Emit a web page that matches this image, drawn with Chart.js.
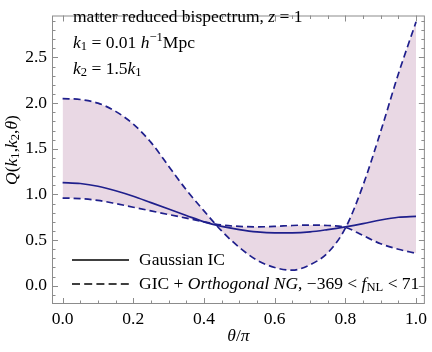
<!DOCTYPE html>
<html>
<head>
<meta charset="utf-8">
<script src="https://cdn.jsdelivr.net/npm/chart.js@4.4.1/dist/chart.umd.min.js"></script>
<style>
html,body{margin:0;padding:0;background:#fff;}
#c{display:block;}
</style>
</head>
<body>
<canvas id="c" width="432" height="352"></canvas>
<script>
// ---- data ----
const thetaOverPi = [0,0.05,0.1,0.15,0.2,0.25,0.3,0.35,0.4,0.45,0.5,0.55,0.6,0.65,0.7,0.75,0.8,0.85,0.9,0.95,1.0];
const gaussianIC  = [1.13,1.12,1.09,1.04,0.98,0.91,0.84,0.77,0.70,0.65,0.615,0.59,0.58,0.58,0.59,0.615,0.645,0.68,0.72,0.75,0.76];
const orthUpper   = [2.05,2.04,2.00,1.91,1.77,1.57,1.31,1.05,0.82,0.60,0.42,0.28,0.20,0.17,0.23,0.36,0.63,1.10,1.69,2.32,2.89];
const orthLower   = [0.96,0.955,0.935,0.90,0.86,0.82,0.78,0.74,0.70,0.665,0.65,0.645,0.65,0.66,0.665,0.66,0.64,0.55,0.46,0.40,0.355];
const xTicks = [0,0.2,0.4,0.6,0.8,1.0];
const yTicks = [0,0.5,1.0,1.5,2.0,2.5];
const xMinorTicks = [0,0.05,0.1,0.15,0.2,0.25,0.3,0.35,0.4,0.45,0.5,0.55,0.6,0.65,0.7,0.75,0.8,0.85,0.9,0.95,1.0];
const yMinorTicks = [-0.1,0,0.1,0.2,0.3,0.4,0.5,0.6,0.7,0.8,0.9,1.0,1.1,1.2,1.3,1.4,1.5,1.6,1.7,1.8,1.9,2.0,2.1,2.2,2.3,2.4,2.5,2.6,2.7,2.8,2.9];
const legendLabels = ["Gaussian IC", "GIC + Orthogonal NG, \u2212369 < fNL < 71"];

const toPts = ys => thetaOverPi.map((x,i)=>({x:x,y:ys[i]}));
const LINE = '#1f1f8c';
const FILL = '#e9d8e4';
const FONT = '"Liberation Serif","Times New Roman",serif';
const FS = 17.5;

function drawRich(ctx, x, y, parts, align){
  let w = 0;
  const meas = parts.map(p=>{
    ctx.font = (p[1]||'normal') + ' ' + (FS*(p[2]||1)) + 'px ' + FONT;
    const m = ctx.measureText(p[0]).width; w += m; return m;
  });
  let cx = align==='center' ? x - w/2 : x;
  parts.forEach((p,i)=>{
    ctx.font = (p[1]||'normal') + ' ' + (FS*(p[2]||1)) + 'px ' + FONT;
    ctx.fillText(p[0], cx, y + (p[3]||0));
    cx += meas[i];
  });
}

const decor = {
  id:'decor',
  afterDatasetsDraw(chart){
    const ctx = chart.ctx, a = chart.chartArea;
    const xs = chart.scales.x, ys = chart.scales.y;
    ctx.save();
    ctx.strokeStyle = '#8c8c8c'; ctx.lineWidth = 1;
    ctx.strokeRect(a.left+0.5, a.top+0.5, a.right-a.left-1, a.bottom-a.top-1);
    ctx.beginPath();
    xMinorTicks.forEach(v=>{
      const px = Math.round(xs.getPixelForValue(v))+0.5;
      const major = xTicks.some(t=>Math.abs(t-v)<1e-9);
      const L = major?6:3.5;
      ctx.moveTo(px, a.bottom); ctx.lineTo(px, a.bottom-L);
      ctx.moveTo(px, a.top); ctx.lineTo(px, a.top+L);
    });
    yMinorTicks.forEach(v=>{
      const py = Math.round(ys.getPixelForValue(v))+0.5;
      const major = yTicks.some(t=>Math.abs(t-v)<1e-9);
      const L = major?6:3.5;
      ctx.moveTo(a.left, py); ctx.lineTo(a.left+L, py);
      ctx.moveTo(a.right, py); ctx.lineTo(a.right-L, py);
    });
    ctx.stroke();

    ctx.fillStyle = '#000';
    ctx.textBaseline = 'middle';
    drawRich(ctx, 73, 17, [['matter reduced bispectrum, '],['z','italic'],[' = 1']]);
    drawRich(ctx, 73, 43, [['k','italic'],['1','normal',0.72,4],[' = 0.01 '],['h','italic'],['\u22121','normal',0.72,-5],['Mpc']]);
    drawRich(ctx, 73, 69, [['k','italic'],['2','normal',0.72,4],[' = 1.5'],['k','italic'],['1','normal',0.72,4]]);

    ctx.strokeStyle = '#000'; ctx.lineWidth = 1.6;
    ctx.setLineDash([]);
    ctx.beginPath(); ctx.moveTo(72,260); ctx.lineTo(129,260); ctx.stroke();
    ctx.setLineDash([8,4.2]);
    ctx.beginPath(); ctx.moveTo(72,284); ctx.lineTo(129,284); ctx.stroke();
    ctx.setLineDash([]);
    drawRich(ctx, 139, 260, [[legendLabels[0]]]);
    drawRich(ctx, 139, 284, [['GIC + '],['Orthogonal NG','italic'],[', \u2212369 < '],['f','italic'],['NL','normal',0.72,4],[' < 71']]);

    drawRich(ctx, (a.left+a.right)/2, 336, [['\u03b8','italic'],['/'],['\u03c0','italic']], 'center');
    ctx.save();
    ctx.translate(12, 150);
    ctx.rotate(-Math.PI/2);
    drawRich(ctx, 0, 0, [['Q','italic'],['('],['k','italic'],['1','normal',0.72,4],[','],['k','italic'],['2','normal',0.72,4],[','],['\u03b8','italic'],[')']], 'center');
    ctx.restore();
    ctx.restore();
  }
};

new Chart(document.getElementById('c'), {
  type:'line',
  data:{
    datasets:[
      {label:'upper', data:toPts(orthUpper), borderColor:LINE, borderWidth:1.7, borderDash:[7,4],
       pointRadius:0, fill:'+1', backgroundColor:FILL, cubicInterpolationMode:'monotone'},
      {label:'lower', data:toPts(orthLower), borderColor:LINE, borderWidth:1.7, borderDash:[7,4],
       pointRadius:0, fill:false, cubicInterpolationMode:'monotone'},
      {label:'Gaussian IC', data:toPts(gaussianIC), borderColor:LINE, borderWidth:1.7,
       pointRadius:0, fill:false, cubicInterpolationMode:'monotone'}
    ]
  },
  options:{
    responsive:false, animation:false, devicePixelRatio:1,
    layout:{padding:{left:0,right:1,top:0,bottom:0}},
    plugins:{legend:{display:false}, tooltip:{enabled:false}, filler:{drawTime:'beforeDatasetsDraw'}},
    scales:{
      x:{type:'linear', min:-0.03, max:1.025,
         grid:{display:false, drawTicks:false}, border:{display:false},
         afterBuildTicks:s=>{s.ticks = xTicks.map(v=>({value:v}));},
         afterFit:s=>{s.height = 48;},
         ticks:{padding:5, color:'#000', font:{family:FONT, size:FS}, maxRotation:0, callback:v=>v.toFixed(1)}},
      y:{type:'linear', min:-0.2, max:2.96,
         grid:{display:false, drawTicks:false}, border:{display:false},
         afterBuildTicks:s=>{s.ticks = yTicks.map(v=>({value:v}));},
         afterFit:s=>{s.width = 52;},
         ticks:{padding:5, color:'#000', font:{family:FONT, size:FS}, callback:v=>v.toFixed(1)}}
    }
  },
  plugins:[decor]
});
</script>
</body>
</html>
